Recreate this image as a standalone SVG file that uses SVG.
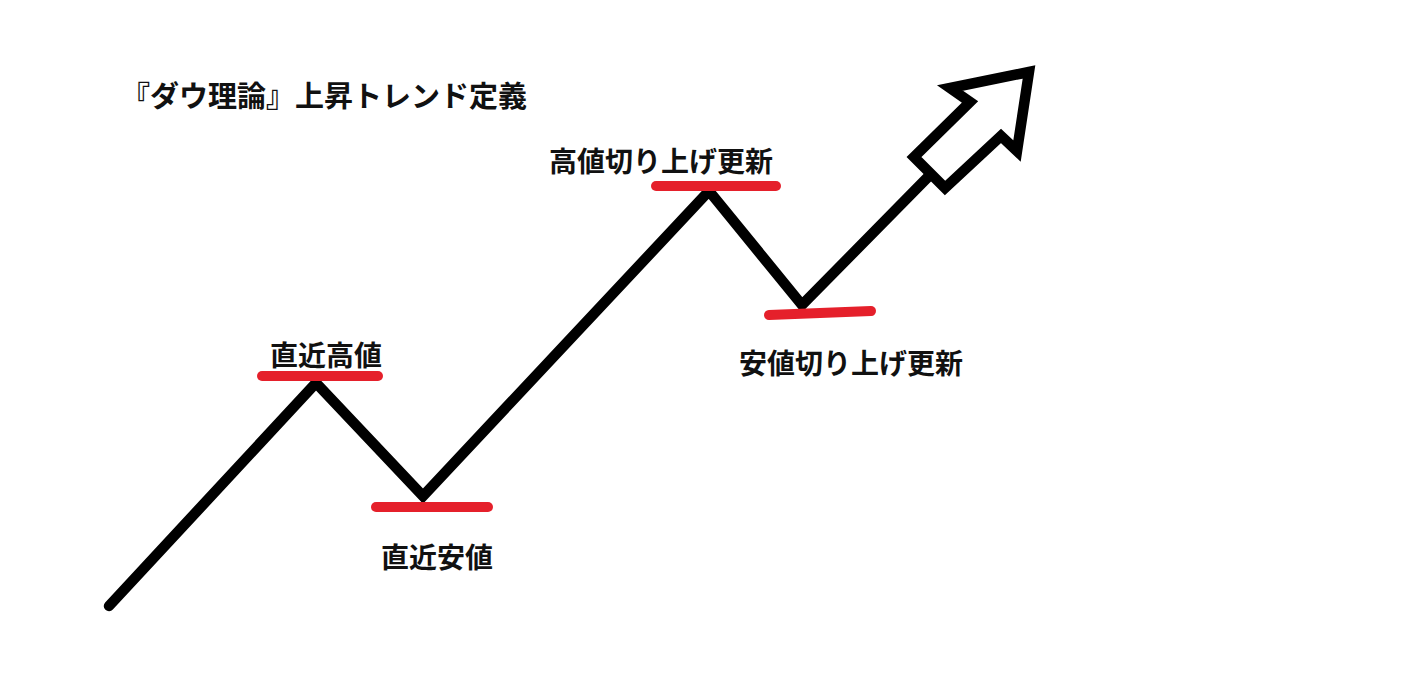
<svg xmlns="http://www.w3.org/2000/svg" width="1416" height="675" viewBox="0 0 1416 675">
<style>
text{font-family:"Noto Sans CJK JP","Noto Sans",sans-serif;font-weight:bold;fill:#111}
.lbl{font-size:28px}
.red{stroke:#e5202b;stroke-width:10;stroke-linecap:round;fill:none}
.blk{stroke:#000;stroke-width:10.5;fill:none}
</style>
<rect width="1416" height="675" fill="#fff"/>
<g id="title"><text x="121" y="107" style="font-size:29px">『ダウ理論』上昇トレンド定義</text></g>
<g id="connectors">
<polyline class="blk" stroke-linejoin="miter" stroke-linecap="round" points="109,606 316,383 423,496 709,191 802,305 928,177"/>
</g>
<g id="arrowhead">
<polygon class="blk" stroke-width="9" stroke-linejoin="miter" points="1029,72 950,88 970,102 914,157 945,188 1001,136 1017,151"/>
</g>
<g id="n1"><line class="red" x1="262" y1="376" x2="378" y2="376"/><text class="lbl" x="270" y="366">直近高値</text></g>
<g id="n2"><line class="red" x1="376" y1="507" x2="488" y2="507"/><text class="lbl" x="381" y="568">直近安値</text></g>
<g id="n3"><line class="red" x1="656" y1="186" x2="776" y2="186"/><text class="lbl" x="549" y="172">高値切り上げ更新</text></g>
<g id="n4"><line class="red" x1="769" y1="315" x2="871" y2="311"/><text class="lbl" x="739" y="374">安値切り上げ更新</text></g>
</svg>
